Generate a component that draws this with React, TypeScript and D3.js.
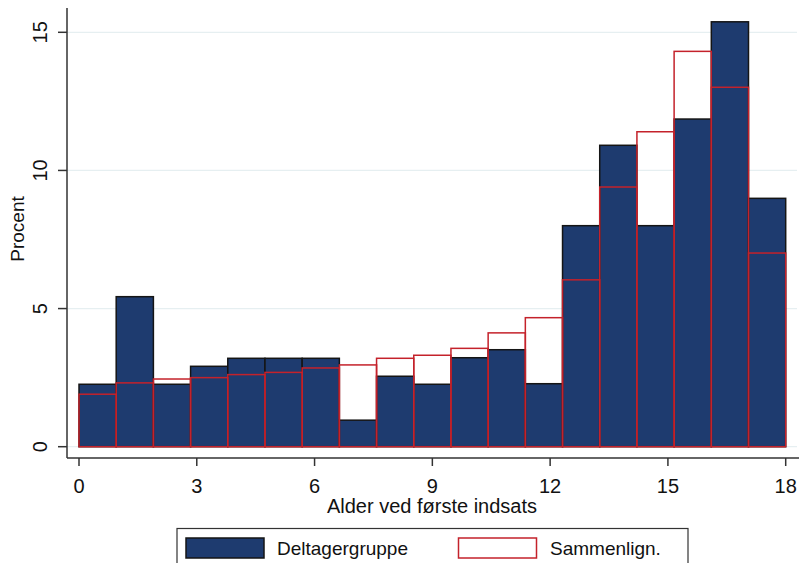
import * as d3 from "d3";
import React from "react";

// percent per age bin (19 bins from 0 to 18)
const deltagergruppe = [
  2.26, 5.43, 2.26, 2.91, 3.2, 3.2, 3.2, 0.96, 2.55, 2.26, 3.22, 3.51, 2.28,
  8.0, 10.91, 8.0, 11.86, 15.38, 8.99,
];
const sammenlign = [
  1.9, 2.31, 2.45, 2.5, 2.61, 2.69, 2.85, 2.96, 3.2, 3.31, 3.56, 4.12, 4.67,
  6.04, 9.4, 11.4, 14.31, 13.01, 7.01,
];
const xTicks = [0, 3, 6, 9, 12, 15, 18];
const yTicks = [0, 5, 10, 15];
const seriesNames = ["Deltagergruppe", "Sammenlign."];
const xTitle = "Alder ved første indsats";
const yTitle = "Procent";
const binMin = 0;
const binMax = 18;

const width = 799;
const height = 563;
const navy = "#1e3b6f";
const red = "#c4222b";
const font = "'Liberation Sans', Arial, sans-serif";

export default function App() {
  const x = d3.scaleLinear().domain([binMin, binMax]).range([79, 785.7]);
  const y = d3.scaleLinear().domain([0, 15]).range([446.7, 32.3]);
  const binW = (binMax - binMin) / deltagergruppe.length;
  const axisX = 67;
  const axisY = 458;

  const bars = (vals: number[]) =>
    vals.map((v, i) => {
      const x0 = x(binMin + i * binW);
      const x1 = x(binMin + (i + 1) * binW);
      return { x0, x1, top: y(v), base: y(0) };
    });

  return (
    <svg
      width={width}
      height={height}
      style={{ position: "absolute", left: 0, top: 0, background: "#fff" }}
      fontFamily={font}
    >
      <rect width={width} height={height} fill="#fff" />
      {/* gridlines */}
      {yTicks.map((t) => (
        <line
          key={"g" + t}
          x1={axisX}
          x2={797}
          y1={y(t)}
          y2={y(t)}
          stroke="#e6eff1"
          strokeWidth={1.2}
        />
      ))}
      {/* deltagergruppe bars */}
      {bars(deltagergruppe).map((b, i) => (
        <rect
          key={"d" + i}
          x={b.x0}
          y={b.top}
          width={b.x1 - b.x0}
          height={b.base - b.top}
          fill={navy}
          stroke="#151515"
          strokeWidth={1.5}
        />
      ))}
      {/* sammenlign outline bars */}
      {bars(sammenlign).map((b, i) => (
        <rect
          key={"s" + i}
          x={b.x0}
          y={b.top}
          width={b.x1 - b.x0}
          height={b.base - b.top}
          fill="none"
          stroke={red}
          strokeWidth={1.5}
        />
      ))}
      {/* axes */}
      <line x1={axisX} x2={axisX} y1={8} y2={axisY} stroke="#333" strokeWidth={1.5} />
      <line x1={axisX} x2={799} y1={axisY} y2={axisY} stroke="#333" strokeWidth={1.5} />
      {yTicks.map((t) => (
        <g key={"y" + t}>
          <line x1={58} x2={axisX} y1={y(t)} y2={y(t)} stroke="#333" strokeWidth={1.5} />
          <text
            transform={`translate(46.5, ${y(t)}) rotate(-90)`}
            textAnchor="middle"
            fontSize={20}
            fill="#111"
          >
            {t}
          </text>
        </g>
      ))}
      {xTicks.map((t) => (
        <g key={"x" + t}>
          <line x1={x(t)} x2={x(t)} y1={axisY} y2={466} stroke="#333" strokeWidth={1.5} />
          <text x={x(t)} y={492.5} textAnchor="middle" fontSize={20} fill="#111">
            {t}
          </text>
        </g>
      ))}
      <text x={432} y={512.5} textAnchor="middle" fontSize={20} fill="#111">
        {xTitle}
      </text>
      <text
        transform={`translate(24, 229) rotate(-90)`}
        textAnchor="middle"
        fontSize={19}
        fill="#111"
      >
        {yTitle}
      </text>
      {/* legend */}
      <rect x={177} y={528.5} width={511} height={50} fill="#fff" stroke="#333" strokeWidth={1.2} />
      <rect x={186} y={538} width={78} height={20} fill={navy} stroke="#151515" strokeWidth={1.5} />
      <text x={277} y={555} fontSize={19} fill="#111">
        {seriesNames[0]}
      </text>
      <rect x={458.5} y={538} width={78} height={20} fill="none" stroke={red} strokeWidth={1.5} />
      <text x={550} y={555} fontSize={19} fill="#111">
        {seriesNames[1]}
      </text>
    </svg>
  );
}
